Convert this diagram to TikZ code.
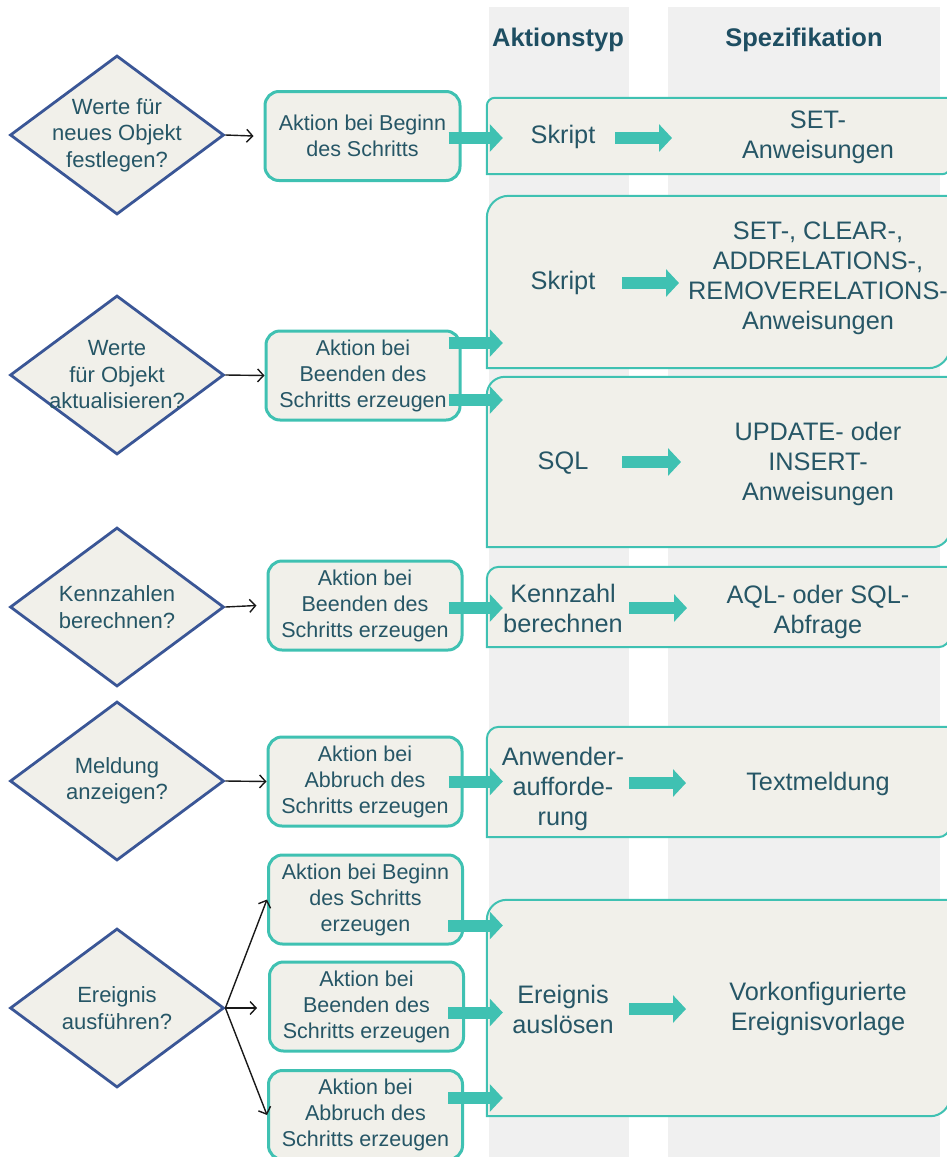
\documentclass[tikz,border=0pt]{standalone}
\usepackage{fontspec}
\setmainfont{Liberation Sans}
\usetikzlibrary{shapes.geometric,arrows.meta,calc}
\definecolor{teal1}{RGB}{63,193,178}
\definecolor{boxfill}{RGB}{241,240,234}
\definecolor{dblue}{RGB}{58,86,150}
\definecolor{txt}{RGB}{38,86,102}
\definecolor{hdr}{RGB}{30,78,98}
\definecolor{colgrey}{RGB}{240,240,240}
\newcommand\diagshape[2]{\draw[bigline] (#1.south west) -- ([yshift=-#2]#1.north west) arc[start angle=180,end angle=90,radius=#2] -- (#1.north east) -- ([yshift=#2]#1.south east) arc[start angle=0,end angle=-90,radius=#2] -- cycle;}
\begin{document}
\begin{tikzpicture}[x=1pt,y=-1pt,
  dia/.style={diamond, draw=dblue, line width=2.8pt, fill=boxfill, minimum width=214pt, minimum height=159pt, inner sep=0pt},
  diatext/.style={text=txt, align=center, font=\fontsize{22}{26.5}\selectfont},
  act/.style={rectangle, rounded corners=14pt, draw=teal1, line width=3pt, fill=boxfill, minimum width=194pt, minimum height=89pt, inner sep=0pt, text=txt, align=center, font=\fontsize{21.5}{26}\selectfont},
  bigarea/.style={rectangle, inner sep=0pt, minimum width=463pt},
  bigline/.style={draw=teal1, line width=2pt, fill=boxfill},
  bigtext/.style={text=txt, align=center, font=\fontsize{25.3}{30}\selectfont},
  hdrtext/.style={text=hdr, font=\bfseries\fontsize{25.5}{30}\selectfont},
  fat/.style={draw=teal1, line width=12pt, -{Triangle[length=13pt,width=27pt]}},
  thinarrow/.style={draw=black!90, line width=1.4pt, -{Straight Barb[length=6pt,width=13pt]}},
]
\useasboundingbox (0,0) rectangle (947,1157);
\clip (0,0) rectangle (947,1157);
% columns
\fill[colgrey] (489,7) rectangle (629,1160);
\fill[colgrey] (668,7) rectangle (940,1160);
\node[hdrtext] (h1) at (558,39.5) {Aktionstyp};
\node[hdrtext] (h2) at (804,39.5) {Spezifikation};
% big boxes
\node[bigarea, minimum height=76pt] (bA) at (718.5,136) {};
\node[bigarea, minimum height=172pt] (bB) at (718.5,282) {};
\node[bigarea, minimum height=170pt] (bC) at (718.5,462) {};
\node[bigarea, minimum height=80pt] (bD) at (718.5,607) {};
\node[bigarea, minimum height=110pt] (bE) at (718.5,782) {};
\node[bigarea, minimum height=216pt] (bF) at (718.5,1008) {};
\diagshape{bA}{8pt}
\diagshape{bB}{22pt}
\diagshape{bC}{18pt}
\diagshape{bD}{12pt}
\diagshape{bE}{12pt}
\diagshape{bF}{20pt}
\node[bigtext] (tA) at (563,137) {Skript};
\node[bigtext] (pA) at (818,137) {SET-\\Anweisungen};
\node[bigtext] (tB) at (563,283) {Skript};
\node[bigtext] (pB) at (818,278) {SET-, CLEAR-,\\ADDRELATIONS-,\\REMOVERELATIONS-\\Anweisungen};
\node[bigtext] (tC) at (563,463) {SQL};
\node[bigtext] (pC) at (818,464) {UPDATE- oder\\INSERT-\\Anweisungen};
\node[bigtext] (tD) at (563,608) {Kennzahl\\berechnen};
\node[bigtext] (pD) at (818,612) {AQL- oder SQL-\\Abfrage};
\node[bigtext] (tE) at (563,789) {Anwender-\\aufforde-\\rung};
\node[bigtext] (pE) at (818,784) {Textmeldung};
\node[bigtext] (tF) at (563,1009) {Ereignis\\auslösen};
\node[bigtext] (pF) at (818,1009) {Vorkonfigurierte\\Ereignisvorlage};
% diamonds
\node[dia] (d1) at (117,135) {};
\node[diatext] (d1t) at (d1) {Werte für\\neues Objekt\\festlegen?};
\node[dia] (d2) at (117,375) {};
\node[diatext] (d2t) at (d2) {Werte\\für Objekt\\aktualisieren?};
\node[dia] (d3) at (117,607) {};
\node[diatext] (d3t) at (d3) {Kennzahlen\\berechnen?};
\node[dia] (d4) at (117,781) {};
\node[diatext] (d4t) at (d4) {Meldung\\anzeigen?};
\node[dia] (d5) at (117,1008) {};
\node[diatext] (d5t) at (d5) {Ereignis\\ausführen?};
% action boxes
\node[act, minimum width=195pt] (s1) at (362.5,136) {Aktion bei Beginn\\des Schritts};
\node[act] (s2) at (363,375.5) {Aktion bei\\Beenden des\\Schritts erzeugen};
\node[act] (s3) at (365,605.5) {Aktion bei\\Beenden des\\Schritts erzeugen};
\node[act] (s4) at (365,781.5) {Aktion bei\\Abbruch des\\Schritts erzeugen};
\node[act] (s5) at (365.5,899.5) {Aktion bei Beginn\\des Schritts\\erzeugen};
\node[act] (s6) at (366.5,1006.5) {Aktion bei\\Beenden des\\Schritts erzeugen};
\node[act] (s7) at (365.5,1115) {Aktion bei\\Abbruch des\\Schritts erzeugen};
% thin connectors
\draw[thinarrow] (d1.east) -- ($(s1.west)+(-10,0)$);
\draw[thinarrow] (d2.east) -- (s2.west);
\draw[thinarrow] (d3.east) -- ($(s3.west)+(-10,0)$);
\draw[thinarrow] (d4.east) -- (s4.west);
\draw[thinarrow] (d5.east) -- (s5.west);
\draw[thinarrow] (d5.east) -- ($(d5.east -| s6.west)+(-11,0)$);
\draw[thinarrow] (d5.east) -- (s7.west);
% fat connectors into big boxes
\path (s1.east) ++(-13,2) coordinate (a1);
\path (s2.east) ++(-13,-32.5) coordinate (a2);
\path (s2.east) ++(-13,24.5) coordinate (a3);
\path (s3.east) ++(-15,2.5) coordinate (a4);
\path (s4.east) ++(-15,0) coordinate (a5);
\path (s5.east) ++(-16,26) coordinate (a6);
\path (s6.east) ++(-17,6) coordinate (a7);
\path (s7.east) ++(-16,-17) coordinate (a8);
\draw[fat] (a1) -- ($(a1 -| bA.west)+(16,0)$);
\draw[fat] (a2) -- ($(a2 -| bB.west)+(16,0)$);
\draw[fat] (a3) -- ($(a3 -| bC.west)+(16,0)$);
\draw[fat] (a4) -- ($(a4 -| bD.west)+(16,0)$);
\draw[fat] (a5) -- ($(a5 -| bE.west)+(16,0)$);
\draw[fat] (a6) -- ($(a6 -| bF.west)+(16,0)$);
\draw[fat] (a7) -- ($(a7 -| bF.west)+(16,0)$);
\draw[fat] (a8) -- ($(a8 -| bF.west)+(16,0)$);
% inner arrows
\coordinate (iA1) at (615,138); \coordinate (iA2) at (672,138);
\coordinate (iB1) at (622,283); \coordinate (iB2) at (679,283);
\coordinate (iC1) at (622,462); \coordinate (iC2) at (681,462);
\coordinate (iD1) at (629,608); \coordinate (iD2) at (687,608);
\coordinate (iE1) at (629,783); \coordinate (iE2) at (686,783);
\coordinate (iF1) at (629,1009); \coordinate (iF2) at (686,1009);
\draw[fat] (iA1) -- (iA2);
\draw[fat] (iB1) -- (iB2);
\draw[fat] (iC1) -- (iC2);
\draw[fat] (iD1) -- (iD2);
\draw[fat] (iE1) -- (iE2);
\draw[fat] (iF1) -- (iF2);
\end{tikzpicture}
\end{document}
